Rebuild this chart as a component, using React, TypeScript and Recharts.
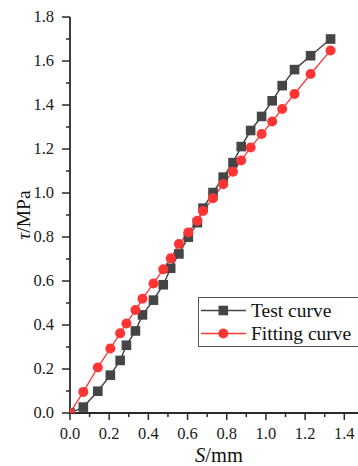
import React from "react";
import { LineChart, Line, XAxis, YAxis, Legend } from "recharts";

const displacement = [0, 0.068, 0.142, 0.206, 0.256, 0.288, 0.334, 0.37, 0.426, 0.476, 0.514, 0.556, 0.604, 0.65, 0.679, 0.73, 0.782, 0.832, 0.874, 0.922, 0.978, 1.032, 1.083, 1.146, 1.228, 1.33];
const testStress = [0, 0.027, 0.099, 0.172, 0.239, 0.308, 0.373, 0.446, 0.513, 0.583, 0.658, 0.723, 0.799, 0.865, 0.931, 1.002, 1.072, 1.138, 1.211, 1.284, 1.348, 1.419, 1.488, 1.561, 1.624, 1.7];
const fitStress = [0, 0.096, 0.207, 0.293, 0.362, 0.407, 0.468, 0.519, 0.589, 0.653, 0.703, 0.768, 0.821, 0.874, 0.918, 0.976, 1.04, 1.097, 1.148, 1.207, 1.268, 1.325, 1.382, 1.45, 1.541, 1.648];
const xTicks = [0, 0.1, 0.2, 0.3, 0.4, 0.5, 0.6, 0.7, 0.8, 0.9, 1.0, 1.1, 1.2, 1.3, 1.4];
const yTicks = [0, 0.1, 0.2, 0.3, 0.4, 0.5, 0.6, 0.7, 0.8, 0.9, 1.0, 1.1, 1.2, 1.3, 1.4, 1.5, 1.6, 1.7, 1.8];
const seriesNames = ["Test curve", "Fitting curve"];

const testData = displacement.map((s, i) => ({ s, t: testStress[i] }));
const fitData = displacement.map((s, i) => ({ s, t: fitStress[i] }));

const FONT = "'Liberation Serif', 'Times New Roman', serif";
const AXIS = "#2a2a2a";
const GRAY = "#454545";
const RED = "#ff3535";

const isMajor = (v: number) => Math.round(v * 10) % 2 === 0;

const XTick = (props: any) => {
  const { x, y, payload } = props;
  const major = isMajor(payload.value);
  return (
    <g>
      <line x1={x} y1={y} x2={x} y2={y + (major ? 7 : 4)} stroke={AXIS} strokeWidth={1.5} />
      {major && (
        <text x={x} y={y + 25.5} textAnchor="middle" fontFamily={FONT} fontSize={16.5} fill="#1a1a1a">
          {payload.value.toFixed(1)}
        </text>
      )}
    </g>
  );
};

const YTick = (props: any) => {
  const { x, y, payload } = props;
  const major = isMajor(payload.value);
  return (
    <g>
      <line x1={x} y1={y} x2={x - (major ? 8 : 4)} y2={y} stroke={AXIS} strokeWidth={1.5} />
      {major && (
        <text x={x - 16} y={y + 5.4} textAnchor="end" fontFamily={FONT} fontSize={16.5} fill="#1a1a1a">
          {payload.value.toFixed(1)}
        </text>
      )}
    </g>
  );
};

const SquareDot = (props: any) => {
  const { cx, cy, index } = props;
  if (cx == null || cy == null) return <g key={`sq-${index}`} />;
  return <rect key={`sq-${index}`} x={cx - 4.8} y={cy - 4.8} width={9.6} height={9.6} fill={GRAY} />;
};

const LegendBox = () => (
  <svg width={162} height={50} style={{ display: "block", overflow: "visible" }}>
    <rect x={0.5} y={0.5} width={165} height={49} fill="#fff" stroke="#555" strokeWidth={1} />
    <line x1={3} y1={13.5} x2={48} y2={13.5} stroke={GRAY} strokeWidth={1.5} />
    <rect x={20.5} y={8.7} width={9.6} height={9.6} fill={GRAY} />
    <text x={53} y={20} fontFamily={FONT} fontSize={19.5} fill="#111">{seriesNames[0]}</text>
    <line x1={3} y1={36.5} x2={48} y2={36.5} stroke={RED} strokeWidth={1.3} />
    <circle cx={25.3} cy={36.5} r={5} fill={RED} />
    <text x={53} y={43} fontFamily={FONT} fontSize={19.5} fill="#111">{seriesNames[1]}</text>
  </svg>
);

export default function App() {
  return (
    <div style={{ position: "absolute", left: 0, top: 0, width: 358, height: 466, background: "#fff" }}>
      <LineChart width={358} height={466} data={testData} margin={{ top: 17, right: 0, bottom: 0, left: 0 }}>
        <XAxis
          type="number"
          dataKey="s"
          domain={[0, 1.47]}
          ticks={xTicks}
          interval={0}
          tickSize={0}
          tickMargin={0}
          tick={<XTick />}
          height={53}
          stroke={AXIS}
          strokeWidth={1.8}
          allowDataOverflow
          label={{
            content: () => (
              <text x={219} y={461.5} textAnchor="middle" fontFamily={FONT} fontSize={20.5} fill="#111">
                <tspan fontStyle="italic">S</tspan>
                <tspan>/mm</tspan>
              </text>
            ),
          }}
        />
        <YAxis
          type="number"
          dataKey="t"
          domain={[0, 1.8]}
          ticks={yTicks}
          interval={0}
          tickSize={0}
          tickMargin={0}
          tick={<YTick />}
          width={70}
          stroke={AXIS}
          strokeWidth={1.8}
          allowDataOverflow
          label={{
            content: () => (
              <text x={30} y={215} transform="rotate(-90, 30, 215)" textAnchor="middle" fontFamily={FONT} fontSize={19.5} fill="#111">
                <tspan fontStyle="italic">τ</tspan>
                <tspan>/MPa</tspan>
              </text>
            ),
          }}
        />
        <Line
          data={testData}
          dataKey="t"
          name={seriesNames[0]}
          stroke={GRAY}
          strokeWidth={1.5}
          dot={<SquareDot />}
          activeDot={false}
          isAnimationActive={false}
        />
        <Line
          data={fitData}
          dataKey="t"
          name={seriesNames[1]}
          stroke={RED}
          strokeWidth={1.3}
          dot={{ r: 5, fill: RED, stroke: RED, strokeWidth: 0 }}
          activeDot={false}
          isAnimationActive={false}
        />
        <Legend
          layout="horizontal"
          verticalAlign="middle"
          align="center"
          wrapperStyle={{ position: "absolute", left: 198, top: 297, width: 162, height: 50 }}
          content={() => <LegendBox />}
        />
      </LineChart>
    </div>
  );
}
